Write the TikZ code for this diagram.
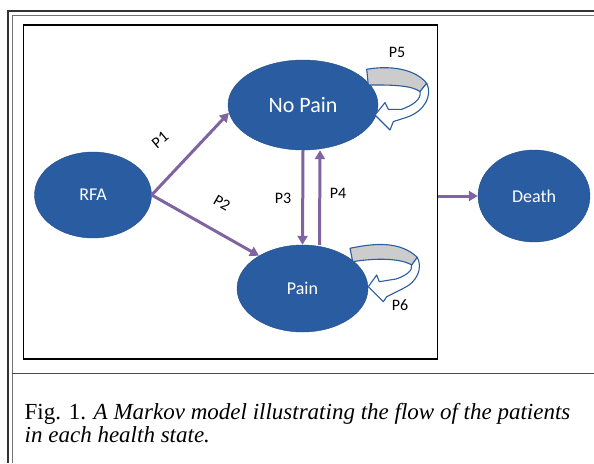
\documentclass[tikz,border=0pt]{standalone}
\usepackage{fontspec}
\setmainfont{Liberation Serif}
\newfontfamily\diagfont{Carlito}
\usetikzlibrary{shapes, calc, arrows.meta}
\definecolor{stateblue}{RGB}{41,92,160}
\definecolor{flowpurple}{RGB}{128,100,162}
\definecolor{loopgray}{RGB}{204,204,204}

\begin{document}
\begin{tikzpicture}[x=1pt, y=-1pt]
	\tikzstyle{state}=[ellipse, fill=stateblue, draw=stateblue!85!black, text=white, inner sep=0pt, font=\diagfont\fontsize{18}{20}\selectfont]
	\tikzstyle{prob}=[inner sep=0pt, font=\diagfont\fontsize{16}{18}\selectfont]
	\tikzstyle{trans}=[-{Triangle[length=9pt, width=10pt]}, line width=3pt, flowpurple]
	\tikzstyle{loopback}=[fill=loopgray, draw=stateblue, line width=1.1pt, line join=round]
	\tikzstyle{loopfront}=[fill=white, draw=stateblue, line width=1.1pt, line join=round]
	\tikzstyle{caption}=[inner sep=0pt, anchor=base west, font=\fontsize{23}{23}\selectfont]

	\useasboundingbox (0,0) rectangle (594,463);

	\draw[line width=2.2pt, black!80] (8,463) -- (8,11) -- (594,11);
	\draw[line width=1pt, black!55] (12,463) -- (12,15) -- (594,15);
	\draw[line width=1.4pt, black!70] (12,373.3) -- (594,373.3);

	\node[draw, line width=1.6pt, inner sep=0pt, minimum width=414pt, minimum height=334pt] (panel) at (230.4,192) {};

	\node[state, minimum width=117pt, minimum height=86pt] (rfa) at (93,195) {RFA};
	\node[state, minimum width=150pt, minimum height=90pt, font=\diagfont\fontsize{22}{24}\selectfont] (nopain) at (303,105) {No Pain};
	\node[state, minimum width=131pt, minimum height=87pt] (pain) at (302.5,288.5) {Pain};
	\node[state, minimum width=112pt, minimum height=92pt] (death) at (534,196) {Death};

	\coordinate (exit) at (panel.east |- death);

	\draw[loopback] (366.7,69.3) .. controls (388.7,65.3) and (414.7,68.3) .. (426.7,83.3) -- (420,91.6) .. controls (411.7,85.3) and (391.7,84.8) .. (368.3,85) -- cycle;
	\draw[loopfront] (426.7,83.3) .. controls (432.7,95.3) and (424.7,111.3) .. (406.7,117.3) -- (393.3,121.6) -- (390,130) -- (375,115) -- (385,102.6) -- (388.3,109.3) -- (401.7,109.3) .. controls (412.7,105.3) and (421.7,99.3) .. (420,91.6) -- cycle;

	\draw[loopback] (350,248.3) .. controls (375,243) and (400,241) .. (417.3,257.3) -- (411.7,265) .. controls (400,258) and (375,258) .. (352.7,261.7) -- cycle;
	\draw[loopfront] (417.3,257.3) .. controls (423,268) and (417,282) .. (404,288) -- (386.7,296.7) -- (383.3,301.7) -- (368.3,286.7) -- (376.7,275) -- (379.3,281.7) -- (396,279) .. controls (405,276) and (413,271) .. (411.7,265) -- cycle;

	\draw[trans] (rfa.east) -- (nopain.186);
	\draw[trans] (rfa.east) -- (pain.143);
	\draw[trans] (nopain.south) -- (pain.north);
	\draw[trans] ([xshift=17pt]pain.north) -- ([xshift=17pt]nopain.south);
	\draw[trans] (exit) -- (death);

	\node[prob, rotate=40] (p1) at (160,140) {P1};
	\node[prob, rotate=-30] (p2) at (222,203) {P2};
	\node[prob] (p3) at (283,198) {P3};
	\node[prob] (p4) at (338,193) {P4};
	\node[prob] (p5) at (397,52) {P5};
	\node[prob] (p6) at (400,305) {P6};

	\node[caption] (cap1) at (24.5,419.5) {Fig. 1. \textit{A Markov model illustrating the flow of the patients}};
	\node[caption] (cap2) at ([yshift=-23pt]cap1.base west) {\textit{in each health state.}};
\end{tikzpicture}
\end{document}
